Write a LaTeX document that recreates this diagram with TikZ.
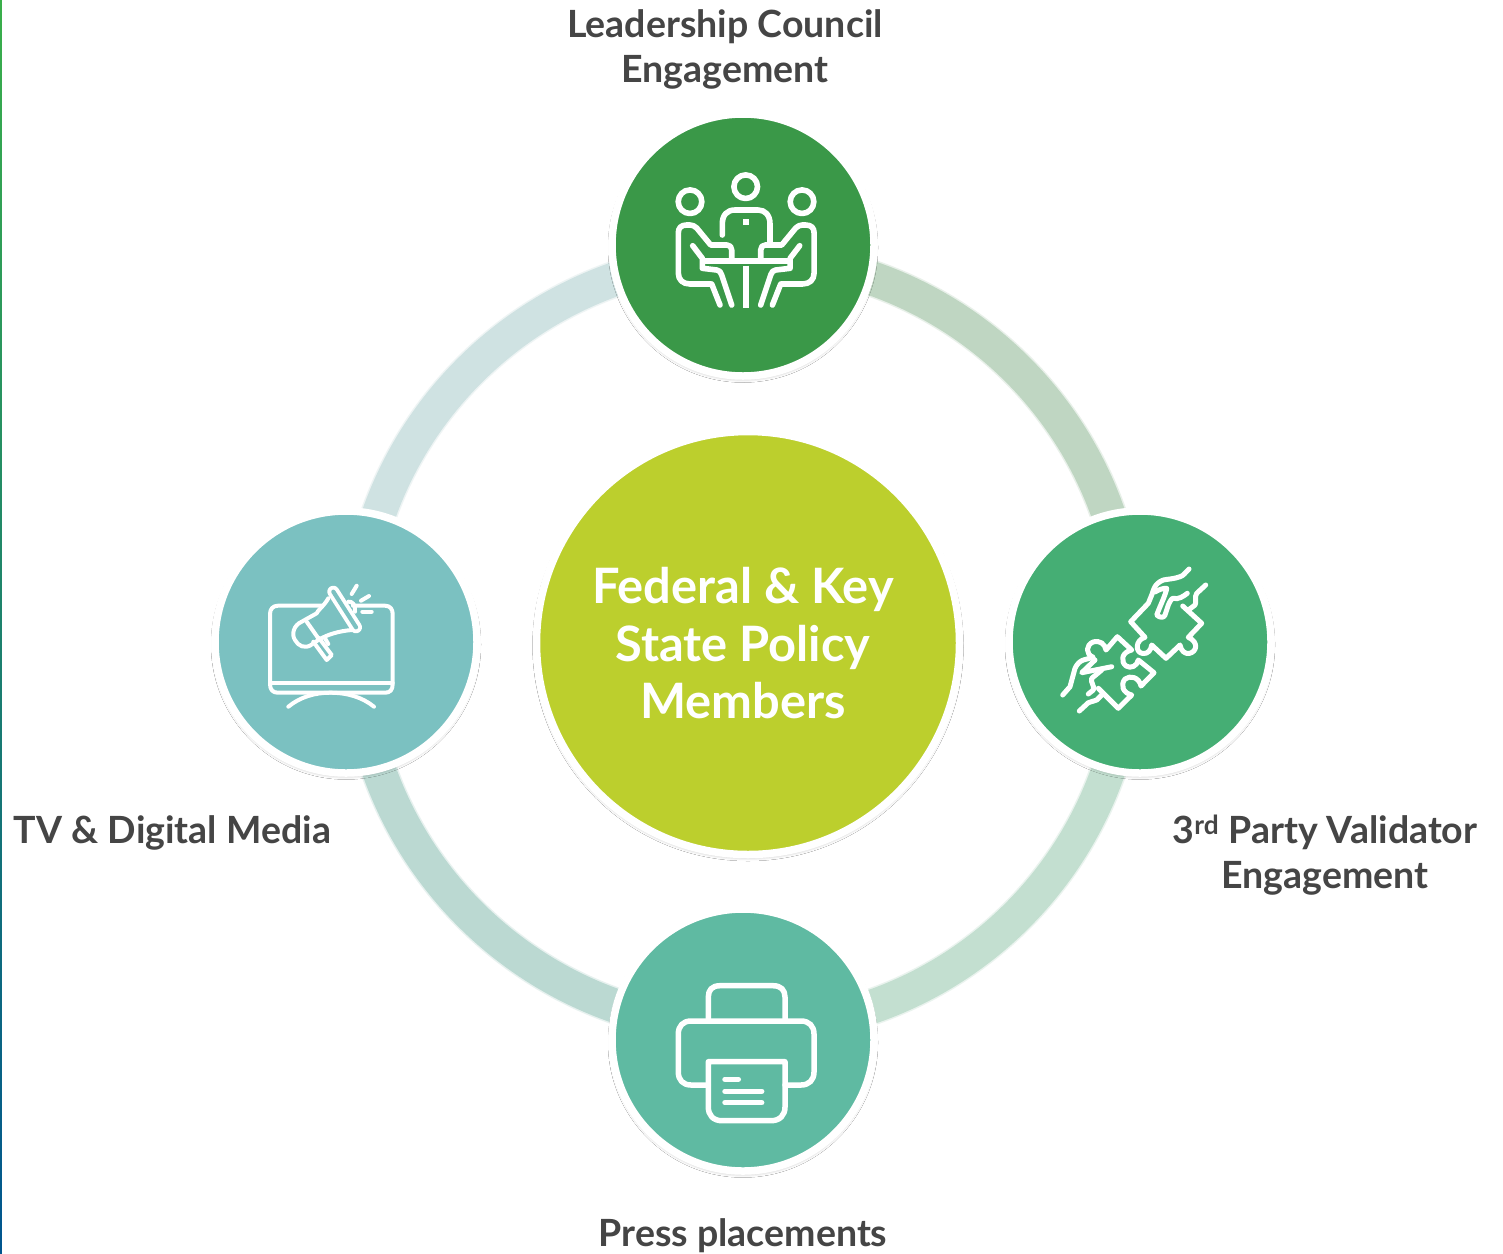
\documentclass[tikz,border=0pt]{standalone}
\usepackage{fontspec}
\setmainfont{Lato}
\usetikzlibrary{shadows.blur,calc,backgrounds}
\definecolor{txt}{HTML}{454545}
\definecolor{cTop}{HTML}{3A9848}
\definecolor{cRight}{HTML}{45AE74}
\definecolor{cBottom}{HTML}{5FBAA2}
\definecolor{cLeft}{HTML}{7BC1C1}
\definecolor{cCentre}{HTML}{BCCF2D}
\definecolor{rTR}{HTML}{BFD6C2}
\definecolor{rBR}{HTML}{C3DFD0}
\definecolor{rBL}{HTML}{BBD9D2}
\definecolor{rTL}{HTML}{CFE2E2}
\definecolor{stripA}{HTML}{3AAF4A}
\definecolor{stripB}{HTML}{12887A}
\definecolor{stripC}{HTML}{00558F}
\tikzset{
  x=1pt,y=-1pt,
  disc/.style={circle,draw=white,line width=7.5pt,minimum size=262pt,inner sep=0pt,outer sep=0pt,
     blur shadow={shadow blur steps=8,shadow xshift=0pt,shadow yshift=-2.5pt,shadow blur radius=4pt,shadow opacity=30}},
  hub/.style={disc,minimum size=423pt},
  hubtext/.style={font=\bfseries\fontsize{48.8}{57.5}\selectfont,text=white,align=center,inner sep=0pt},
  ringarc/.style={line width=34pt,line cap=butt},
  ringglow/.style={line width=37pt,line cap=butt,opacity=.35},
  lab/.style={font=\bfseries\fontsize{37.5}{45}\selectfont,text=txt,align=center,inner sep=0pt},
  ico/.style={draw=white,line width=5.6pt,line cap=round,line join=round},
}
\begin{document}
\begin{tikzpicture}
\useasboundingbox (0,0) rectangle (1503,1253);
% circles
\node[disc,fill=cTop] (top) at (743,245) {};
\node[disc,fill=cRight] (right) at (1140,642) {};
\node[disc,fill=cBottom] (bottom) at (743,1040) {};
\node[disc,fill=cLeft] (left) at (346,642) {};
\node[hub,fill=cCentre] (centre) at (748,643) {};
\node[hubtext] (centretext) at (743,643.5) {Federal \& Key\\State Policy\\Members};
\coordinate (rT) at ($(top)+(2,12)$);
\coordinate (rR) at ($(right)+(-10,0)$);
\coordinate (rB) at ($(bottom)+(2,-12)$);
\coordinate (rL) at ($(left)+(11,0)$);
\begin{pgfonlayer}{background}
\fill[white] (0,0) rectangle (1503,1253);
\shade[top color=stripA,middle color=stripB,bottom color=stripC] (0,0) rectangle (1.8,1253);
\draw[ringglow,rTR] (rT) to[out=0,in=90] (rR);
\draw[ringglow,rBR] (rR) to[out=-90,in=0] (rB);
\draw[ringglow,rBL] (rB) to[out=180,in=-90] (rL);
\draw[ringglow,rTL] (rL) to[out=90,in=180] (rT);
\draw[ringarc,rTR] (rT) to[out=0,in=90] (rR);
\draw[ringarc,rBR] (rR) to[out=-90,in=0] (rB);
\draw[ringarc,rBL] (rB) to[out=180,in=-90] (rL);
\draw[ringarc,rTL] (rL) to[out=90,in=180] (rT);
\end{pgfonlayer}
% labels
\node[lab] (l1) at (725,49.5) {Leadership Council\\Engagement};
\node[lab] (l2) at (1325,855.5) {3\textsuperscript{rd} Party Validator\\Engagement};
\node[lab] (l3) at (743,1236) {Press placements};
\node[lab] (l4) at (172.5,833) {TV \& Digital Media};
% meeting icon
\begin{scope}[ico]
\draw (745.7,186.7) circle (11.8);
\draw (690,201.7) circle (11.8);
\draw (802,201.7) circle (11.8);
\draw (722.3,235) -- (722.3,224) .. controls (722.3,215) and (727,210) .. (735,210) -- (758,210) .. controls (765,210) and (770,215) .. (770,224) -- (770,243);
\draw[line cap=butt] (731.7,260) -- (731.7,250) .. controls (731.7,247) and (730,245) .. (727,245) -- (710.7,245) -- (696.7,228) .. controls (695,226) and (692,225) .. (690,225) -- (686.7,225) .. controls (681,225) and (678.3,228) .. (678.3,233) -- (678.3,273) .. controls (678.3,280) and (683,284) .. (690,284) -- (711.7,284);
\draw (711.7,284) -- (720,305);
\draw (692.7,245.7) -- (702.3,258.3) -- (702.3,268.3) -- (716.7,270) .. controls (719,270) and (721,272) .. (721.7,275) -- (731.7,305);
\draw[line cap=butt] (760.7,260) -- (760.7,250) .. controls (760.7,247) and (762.4,245) .. (765.4,245) -- (781.7,245) -- (795.7,228) .. controls (797.4,226) and (800.4,225) .. (802.4,225) -- (805.7,225) .. controls (811.4,225) and (814.1,228) .. (814.1,233) -- (814.1,273) .. controls (814.1,280) and (809.4,284) .. (802.4,284) -- (780.7,284);
\draw (780.7,284) -- (772.4,305);
\draw (799.7,245.7) -- (790.1,258.3) -- (790.1,268.3) -- (775.7,270) .. controls (773.4,270) and (771.4,272) .. (770.7,275) -- (760.7,305);
\draw[line cap=butt] (702,261) -- (790.4,261);
\draw[line cap=butt,line width=6pt] (746,265.5) -- (746,307.5);
\fill[white,draw=none] (743,218.7) rectangle (749,224.7);
\end{scope}
% puzzle icon
\begin{scope}[ico,line width=5pt]
\draw (1189,569) .. controls (1185,573) and (1183,576) .. (1180,576.7) .. controls (1174,579) and (1168,579) .. (1163.3,580) .. controls (1158,582) and (1156,585) .. (1155,586.7) .. controls (1153,590) and (1153,592) .. (1151.7,595) -- (1148.3,603.3) -- (1130.7,621.7) -- (1145,637.3) .. controls (1135,640) and (1135,653) .. (1143,653.5) .. controls (1148,654) and (1151,650) .. (1151.7,645) -- (1166,658.3) -- (1180,645) .. controls (1181,651) and (1185,654) .. (1189,653.5) .. controls (1197,652) and (1199,642) .. (1188.3,637.3) -- (1201.7,623.3) -- (1182.7,606);
\draw (1205.7,585) -- (1196.7,593.3) .. controls (1194,597) and (1197,602) .. (1195,605) -- (1189.3,609.3);
\draw (1155,592) .. controls (1158,590) and (1163,588) .. (1166.7,588.3) .. controls (1166,594) and (1160,606) .. (1156.7,615) .. controls (1160,618) and (1164,618) .. (1165,615) -- (1168.3,605) .. controls (1170,601) and (1172,598) .. (1173.3,598.3) .. controls (1178,600) and (1184,596) .. (1187.3,593.3);
\draw (1062.7,695) -- (1070,686.7) -- (1075,668.3) .. controls (1077,664) and (1080,661) .. (1083.3,660) -- (1093.3,657.3) .. controls (1085,654) and (1086,645) .. (1093,642) .. controls (1100,640) and (1105,644) .. (1106,650) -- (1117.3,636.7) -- (1131.7,650) .. controls (1122,652) and (1120,661) .. (1126,666) .. controls (1131,669) and (1137,666) .. (1138.3,660) -- (1154,672.7) -- (1141,686) .. controls (1139,677) and (1130,675) .. (1125,679) .. controls (1120,685) and (1123,693) .. (1131.7,695) -- (1118.3,708.3) -- (1098.3,688.3);
\draw (1095,660) -- (1081.7,672.7) -- (1111.7,666.7);
\draw (1088.3,694) -- (1093.3,690) .. controls (1095,686) and (1090,682) .. (1091.7,678.3) -- (1101.7,670);
\draw (1079.3,711) -- (1088.3,702.7) -- (1096.7,700) -- (1101.7,695);
\end{scope}
% megaphone icon
\begin{scope}[ico,line width=4pt]
\draw (321.7,605.7) -- (278,605.7) .. controls (273,605.7) and (270,609) .. (270,614) -- (270,684) .. controls (270,690) and (273,692.7) .. (278,692.7) -- (385,692.7) .. controls (390,692.7) and (392.7,690) .. (392.7,684) -- (392.7,614) .. controls (392.7,609) and (390,605.7) .. (385,605.7) -- (353,605.7);
\draw (270,682.7) -- (392.7,682.7);
\draw (288.3,706.7) .. controls (300,697) and (315,692.7) .. (330,692.7) .. controls (347,692.7) and (362,697) .. (374,706.7);
\draw (328.3,598.3) .. controls (324,606) and (317,611) .. (316.7,613.3) -- (301.7,621.7) .. controls (294,625) and (291,634) .. (295,640) .. controls (298,646) and (305,649) .. (311,645) -- (318.3,640) .. controls (328,634) and (340,631) .. (351.7,630);
\draw (306.7,621.7) -- (318.3,638.3);
\draw (313.3,641.7) -- (326.7,660) -- (331.7,655) -- (319,638);
\draw (325,638.3) -- (328.3,644);
\draw (348.3,601.7) .. controls (352,601) and (356,605) .. (355,611.7);
\draw[line width=12pt] (333.3,591.7) -- (356,627.3);
\draw[draw=cLeft,line width=4.2pt] (333.3,591.7) -- (356,627.3);
\draw (351.7,594) -- (356.7,585.7);
\draw (361,600.7) -- (369,596);
\draw (362.3,611.7) -- (371.7,611.7);
\end{scope}
% printer icon
\begin{scope}[ico,line width=5.5pt]
\draw (708.3,1020) -- (708.3,997) .. controls (708.3,990) and (712,985.7) .. (720,985.7) -- (773,985.7) .. controls (781,985.7) and (785,990) .. (785,997) -- (785,1020);
\draw (708.3,1085) -- (691,1085) .. controls (683,1085) and (678.3,1080) .. (678.3,1072) -- (678.3,1034) .. controls (678.3,1026) and (683,1021) .. (691,1021) -- (801,1021) .. controls (809,1021) and (814,1026) .. (814,1034) -- (814,1072) .. controls (814,1080) and (809,1085) .. (801,1085) -- (785,1085);
\draw (708.3,1061.7) -- (785,1061.7) -- (785,1107) .. controls (785,1115) and (780,1120.7) .. (771,1120.7) -- (722,1120.7) .. controls (713,1120.7) and (708.3,1115) .. (708.3,1107) -- cycle;
\draw (725,1079.3) -- (738.3,1079.3);
\draw (725,1091.3) -- (761.7,1091.3);
\draw (725,1102.7) -- (761.7,1102.7);
\end{scope}
\end{tikzpicture}
\end{document}
